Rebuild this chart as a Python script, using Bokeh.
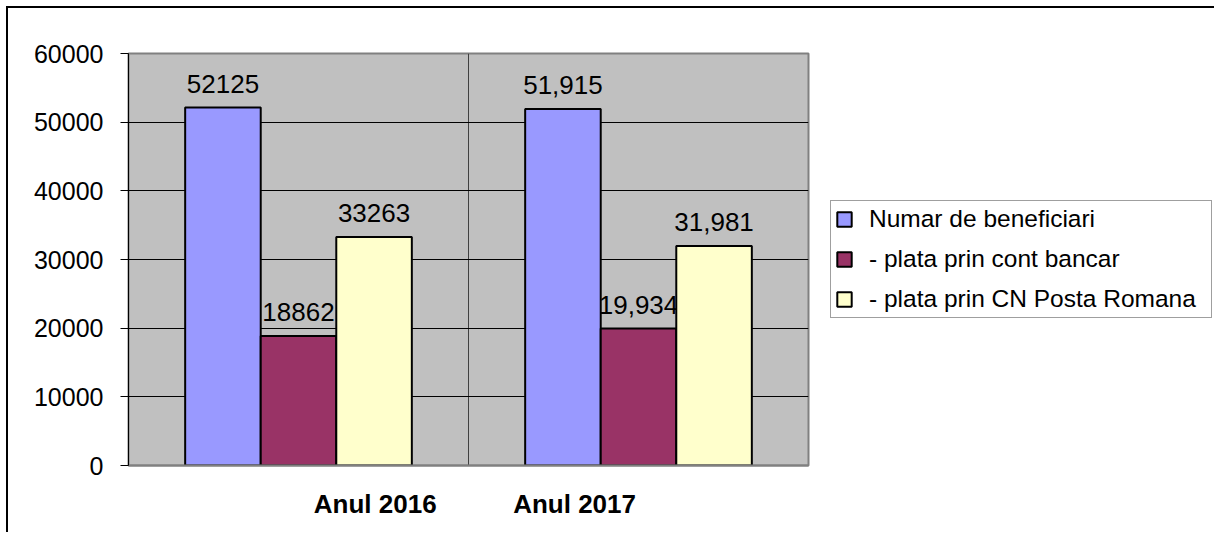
from bokeh.plotting import figure
from bokeh.models import ColumnDataSource, Legend, LegendItem, FixedTicker, Range1d
from bokeh.core.properties import value
from bokeh.embed import file_html
from bokeh.resources import INLINE

categories = ["Anul 2016", "Anul 2017"]
series_names = ["Numar de beneficiari", "- plata prin cont bancar", "- plata prin CN Posta Romana"]
beneficiari = [52125, 51915]
cont_bancar = [18862, 19934]
posta_romana = [33263, 31981]
labels_beneficiari = ["52125", "51,915"]
labels_cont_bancar = ["18862", "19,934"]
labels_posta_romana = ["33263", "31,981"]
y_ticks = [0, 10000, 20000, 30000, 40000, 50000, 60000]
colors = ["#9999FF", "#993366", "#FFFFCC"]

FONT = "Liberation Sans"
p = figure(width=1214, height=532, output_backend="svg", toolbar_location=None,
           x_range=Range1d(0, 2), y_range=Range1d(0, 60000),
           min_border_left=128, min_border_top=53, min_border_bottom=67, min_border_right=406,
           frame_width=680, frame_height=412)
p.styles = {"background": "linear-gradient(#000, #000) 6px 6px / 2px 100% no-repeat, "
                          "linear-gradient(#000, #000) 6px 6px / 100% 2px no-repeat"}
p.background_fill_color = "#C0C0C0"
p.border_fill_color = "white"
p.border_fill_alpha = 0
p.outline_line_color = "#808080"
p.outline_line_width = 2

w = 1 / 4.5
centers = [0.5, 1.5]
renderers = []
for i, (vals, labs) in enumerate([(beneficiari, labels_beneficiari),
                                  (cont_bancar, labels_cont_bancar),
                                  (posta_romana, labels_posta_romana)]):
    xs = [c + (i - 1) * w for c in centers]
    src = ColumnDataSource(dict(x=xs, top=vals, lab=labs))
    r = p.vbar(x="x", top="top", width=w, bottom=0, source=src,
               fill_color=colors[i], line_color="black", line_width=2)
    renderers.append(r)
    p.text(x="x", y="top", text="lab", source=src, text_align="center",
           text_baseline="bottom", y_offset=-15, text_font=value(FONT),
           text_font_size="26px", text_color="black")

# grid
p.ygrid.ticker = FixedTicker(ticks=y_ticks)
p.ygrid.grid_line_color = "black"
p.ygrid.grid_line_width = 1
p.xgrid.ticker = FixedTicker(ticks=[1])
p.xgrid.grid_line_color = "#404040"
p.xgrid.grid_line_width = 1

# y axis
p.yaxis.ticker = FixedTicker(ticks=y_ticks)
p.yaxis.axis_line_color = "black"
p.yaxis.major_tick_line_color = "black"
p.yaxis.major_tick_out = 8
p.yaxis.major_tick_in = 0
p.yaxis.minor_tick_line_color = None
p.yaxis.major_label_text_font = FONT
p.yaxis.major_label_text_font_size = "25px"
p.yaxis.major_label_text_color = "black"
p.yaxis.major_label_standoff = 17

# x axis: category labels
label_pos = [0.7256, 1.312]
p.xaxis.ticker = FixedTicker(ticks=label_pos)
p.xaxis.major_label_overrides = {label_pos[i]: categories[i] for i in range(2)}
p.xaxis.axis_line_color = "#808080"
p.xaxis.axis_line_width = 2
p.xaxis.major_tick_line_color = None
p.xaxis.minor_tick_line_color = None
p.xaxis.major_label_text_font = FONT
p.xaxis.major_label_text_font_size = "26px"
p.xaxis.major_label_text_font_style = "bold"
p.xaxis.major_label_text_color = "black"
p.xaxis.major_label_standoff = 17

legend = Legend(items=[LegendItem(label=series_names[i], renderers=[renderers[i]]) for i in range(3)],
                location="center_left")
legend.label_text_font = FONT
legend.label_text_font_size = "24.5px"
legend.label_text_color = "black"
legend.glyph_width = 18
legend.glyph_height = 18
legend.label_standoff = 16
legend.label_width = 338
legend.spacing = 12
legend.padding = 4
legend.margin = 22
legend.border_line_color = "#404040"
legend.border_line_width = 1
legend.background_fill_color = "white"
legend.background_fill_alpha = 1
p.add_layout(legend, "right")

open("out.html", "w").write(file_html(p, INLINE))
